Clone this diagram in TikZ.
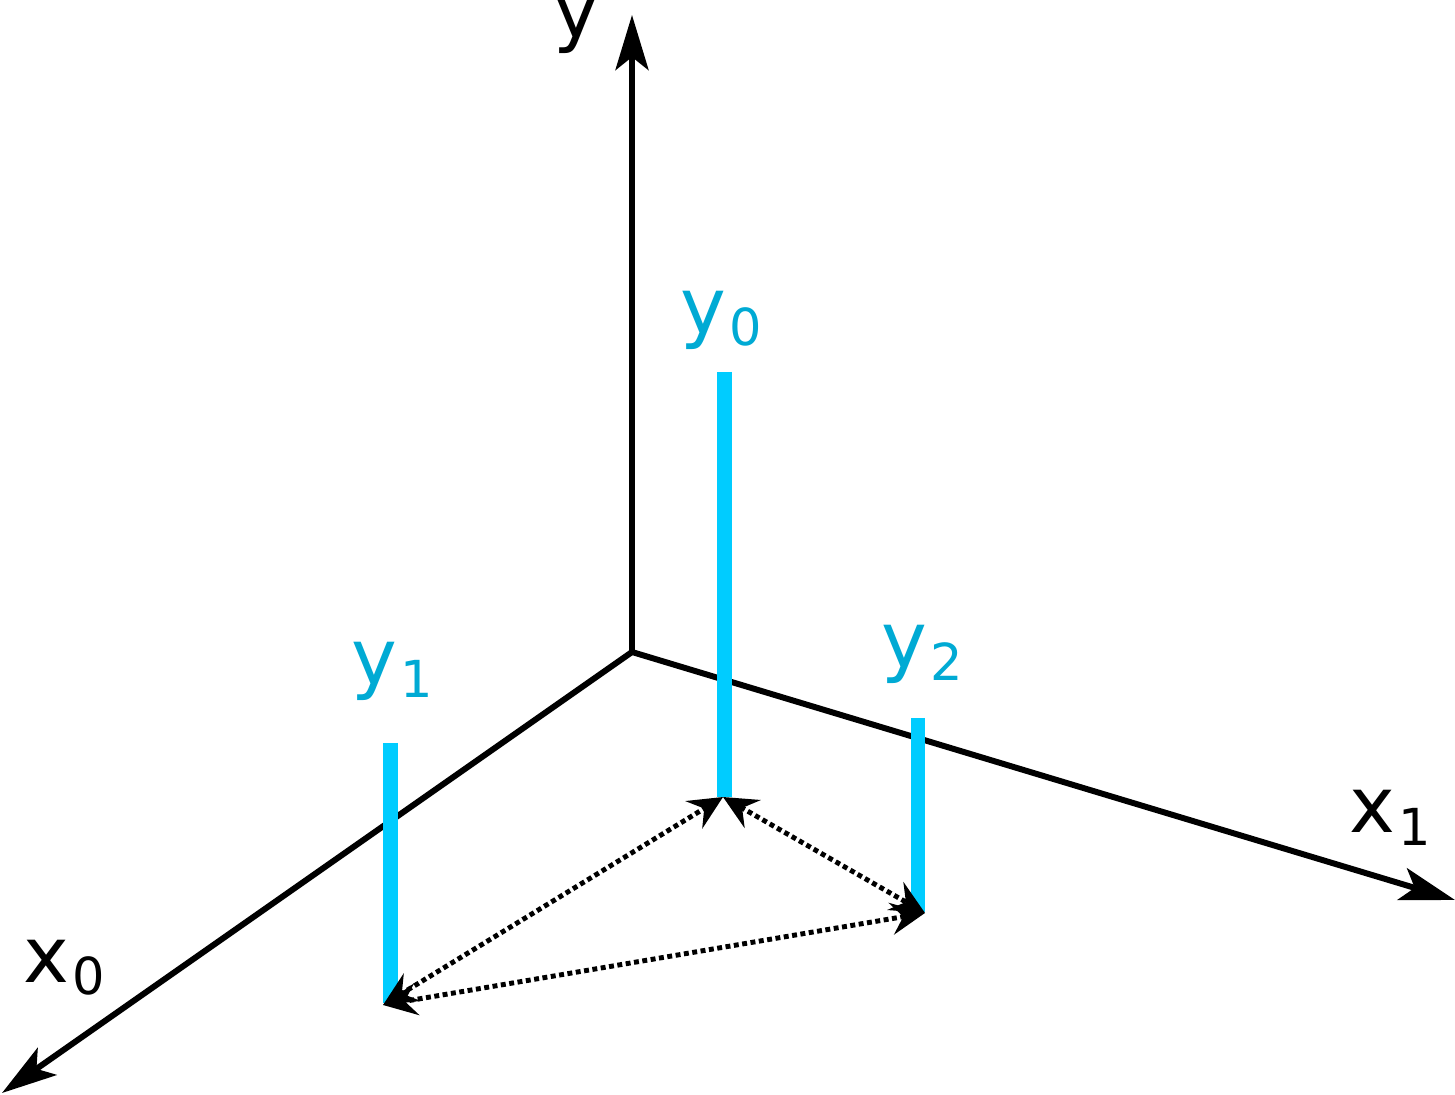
\documentclass[tikz,border=0pt]{standalone}
\usepackage{fontspec}
\setmainfont{DejaVu Sans}
\usetikzlibrary{arrows.meta}
\definecolor{barblue}{RGB}{0,204,255}
\definecolor{labblue}{RGB}{0,170,212}
\newcommand{\lbl}[2]{#1\raisebox{-0.12cm}{\fontsize{14.5}{17}\selectfont\kern0.03cm #2}}
\begin{document}
\begin{tikzpicture}[x=0.01cm,y=-0.01cm,
  axis/.style={line width=1.7pt, -{Stealth[length=0.55cm,width=0.33cm,inset=0.13cm]}},
  bar/.style={barblue, line width=4.1pt},
  dist/.style={line width=1.4pt, dash pattern=on 1.4pt off 1.0pt,
    {Stealth[length=0.34cm,width=0.32cm,inset=0.12cm]}-{Stealth[length=0.34cm,width=0.32cm,inset=0.12cm]}},
  lab/.style={anchor=base west, inner sep=0pt, font=\fontsize{22}{26}\selectfont},
]
\useasboundingbox (0,0) rectangle (1455,1095);
% axes
\coordinate (O) at (632,652);
\coordinate (Ytip) at (632,15);
\coordinate (X1tip) at (1455,900);
\coordinate (X0tip) at (2,1093);
\draw[axis] (O) -- (Ytip);
\draw[axis] (O) -- (X1tip);
\draw[axis] (O) -- (X0tip);
% bars
\coordinate (b0t) at (724.5,372);
\coordinate (b0b) at (724.5,797);
\coordinate (b1t) at (390.5,743);
\coordinate (b1b) at (390.5,1003);
\coordinate (b2t) at (918,718);
\coordinate (b2b) at (918,912);
\draw[bar] (b0t) -- (b0b);
\draw[bar] (b1t) -- (b1b);
\draw[bar] (b2t) -- (b2b);
% distance arrows
\coordinate (p0) at (723,797);
\coordinate (p1) at (383,1005);
\coordinate (p2) at (925,913);
\draw[dist] (p1) -- (p0);
\draw[dist] (p0) -- (p2);
\draw[dist] (p2) -- (p1);
% labels
\node[lab] (ly) at (553,38) {y};
\node[lab] (lx0) at (23,982) {\lbl{x}{0}};
\node[lab] (lx1) at (1349,833) {\lbl{x}{1}};
\node[lab, text=labblue] (ly0) at (680,334) {\lbl{y}{0}};
\node[lab, text=labblue] (ly1) at (351,685) {\lbl{y}{1}};
\node[lab, text=labblue] (ly2) at (881,668) {\lbl{y}{2}};
\end{tikzpicture}
\end{document}
